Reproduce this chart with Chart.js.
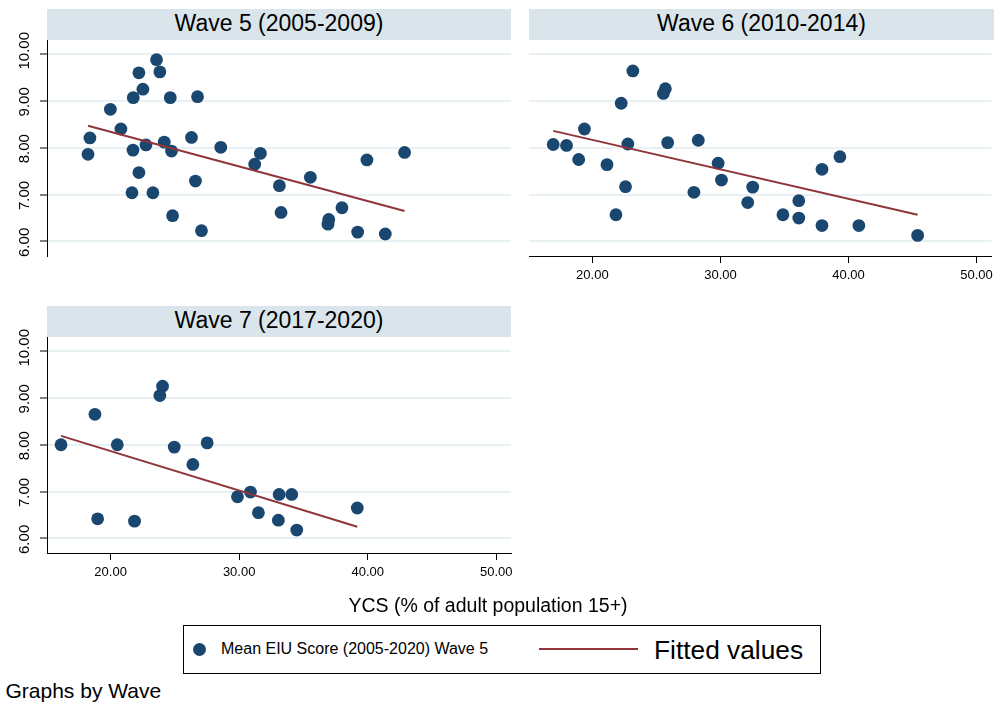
<!DOCTYPE html>
<html>
<head>
<meta charset="utf-8">
<script src="https://cdn.jsdelivr.net/npm/chart.js@4"></script>
<style>
  html, body { margin: 0; padding: 0; background: #fff; }
  #page { position: relative; width: 998px; height: 709px; overflow: hidden;
          font-family: "Liberation Sans", Arial, sans-serif; color: #000; background: #fff; }
  canvas { position: absolute; }
  .strip { position: absolute; background: #dae5eb; height: 31px; }
  .strip span { display: block; text-align: center; font-size: 23px; line-height: 28px; white-space: nowrap; }
  .txt { position: absolute; white-space: nowrap; line-height: 1; }
  #legendBox { position: absolute; left: 183px; top: 625px; width: 638px; height: 49px;
               box-sizing: border-box; border: 1px solid #000; }
  #legDot { position: absolute; left: 193px; top: 643px; width: 13px; height: 13px; border-radius: 50%; background: #1a476f; }
  #legLine { position: absolute; left: 539px; top: 648px; width: 99px; height: 2px; background: #90353b; }
</style>
</head>
<body>
<div id="page">
  <div class="strip" style="left:47px;top:9px;width:464px;"><span>Wave 5 (2005-2009)</span></div>
  <div class="strip" style="left:529px;top:9px;width:465px;"><span>Wave 6 (2010-2014)</span></div>
  <div class="strip" style="left:47px;top:306px;width:464px;"><span>Wave 7 (2017-2020)</span></div>

  <canvas id="c5" width="520" height="240" style="left:0px;top:30px;"></canvas>
  <canvas id="c6" width="478" height="270" style="left:520px;top:30px;"></canvas>
  <canvas id="c7" width="520" height="270" style="left:0px;top:327px;"></canvas>

  <div class="txt" style="left:288px;top:595.5px;width:400px;text-align:center;font-size:19.5px;">YCS (% of adult population 15+)</div>

  <div id="legendBox"></div>
  <div id="legDot"></div>
  <div class="txt" style="left:221px;top:640.5px;font-size:16px;">Mean EIU Score (2005-2020) Wave 5</div>
  <div id="legLine"></div>
  <div class="txt" style="left:654px;top:637px;font-size:26.3px;">Fitted values</div>

  <div class="txt" style="left:5.5px;top:680px;font-size:21px;">Graphs by Wave</div>
</div>

<script>
// Wave 5 (2005-2009): YCS share vs mean EIU score
const wave5X = [18.24, 18.39, 19.98, 20.80, 21.76, 21.74, 21.66, 22.20, 22.20, 22.51, 22.75, 23.29,
                23.57, 23.83, 24.17, 24.64, 24.74, 24.82, 26.29, 26.60, 26.76, 27.07, 28.57, 31.21,
                31.65, 33.13, 33.26, 35.54, 36.91, 36.97, 38.00, 39.22, 39.94, 41.37, 42.87];
const wave5Y = [7.86, 8.21, 8.82, 8.40, 9.07, 7.95, 7.04, 9.60, 7.47, 9.25, 8.06, 7.04,
                9.88, 9.62, 8.12, 9.07, 7.93, 6.55, 8.22, 7.29, 9.09, 6.23, 8.01, 7.65,
                7.88, 7.19, 6.62, 7.37, 6.37, 6.47, 6.72, 6.20, 7.74, 6.16, 7.90];

// Wave 6 (2010-2014)
const wave6X = [16.94, 17.98, 18.93, 19.38, 21.14, 21.84, 22.25, 22.59, 22.77, 23.16, 25.54, 25.70,
                25.88, 27.93, 28.27, 29.82, 30.08, 32.13, 32.52, 34.88, 36.12, 36.12, 37.93, 37.93,
                39.33, 40.81, 45.40];
const wave6Y = [8.07, 8.05, 7.75, 8.40, 7.64, 6.57, 8.95, 7.17, 8.08, 9.64, 9.16, 9.26,
                8.11, 7.05, 8.16, 7.67, 7.31, 6.83, 7.16, 6.57, 6.87, 6.50, 7.54, 6.34,
                7.81, 6.34, 6.13];

// Wave 7 (2017-2020)
const wave7X = [16.14, 18.78, 18.99, 20.52, 21.86, 23.83, 24.04, 24.95, 26.40, 27.51, 29.87, 30.88,
                31.50, 33.05, 33.11, 34.09, 34.48, 39.19];
const wave7Y = [8.00, 8.65, 6.42, 8.00, 6.37, 9.05, 9.25, 7.95, 7.58, 8.04, 6.89, 6.99,
                6.55, 6.39, 6.94, 6.94, 6.18, 6.65];

// Fitted values (linear fit) at the ends of each wave's YCS range
const fit5X = [18.24, 42.87];
const fit5Y = [8.47, 6.65];
const fit6X = [16.94, 45.40];
const fit6Y = [8.36, 6.57];
const fit7X = [16.14, 39.19];
const fit7Y = [8.19, 6.25];

// Axis ticks shared by all panels
const xTicks = [20, 30, 40, 50];
const yTicks = [6, 7, 8, 9, 10];

const FONT = '"Liberation Sans", Arial, sans-serif';
const NAVY = '#1a476f';
const MAROON = '#90353b';
const GRID = '#e9f0f3';

const toPoints = (xs, ys) => xs.map((x, i) => ({ x: x, y: ys[i] }));

// Vertical (rotated) value labels along the left axis
const rotatedYLabels = {
  id: 'rotatedYLabels',
  afterDraw(chart, args, opts) {
    if (!opts.show) return;
    const ys = chart.scales.y;
    const ctx = chart.ctx;
    ctx.save();
    ctx.fillStyle = '#000';
    ctx.font = '15px ' + FONT;
    ctx.textAlign = 'left';
    ctx.textBaseline = 'alphabetic';
    yTicks.forEach(v => {
      const py = ys.getPixelForValue(v);
      ctx.save();
      ctx.translate(28.5, py + 15.5);
      ctx.rotate(-Math.PI / 2);
      ctx.fillText(v.toFixed(2), 0, 0);
      ctx.restore();
    });
    ctx.restore();
  }
};

function makePanel(id, xs, ys, fx, fy, cfg) {
  const datasets = [
    {
      type: 'line',
      data: toPoints(fx, fy),
      borderColor: MAROON,
      borderWidth: 2,
      pointRadius: 0,
      fill: false,
      tension: 0,
      order: 0
    },
    {
      type: 'scatter',
      data: toPoints(xs, ys),
      backgroundColor: NAVY,
      borderColor: NAVY,
      borderWidth: 0,
      pointRadius: 6.4,
      order: 1
    }
  ];

  const xScale = {
    type: 'linear',
    min: 15.05,
    max: 51.15,
    display: cfg.showX,
    afterBuildTicks: s => { s.ticks = xTicks.map(v => ({ value: v })); },
    afterFit: s => { s.height = cfg.showX ? 40 : 0; },
    border: { display: true, color: '#000', width: 1 },
    grid: { display: true, drawOnChartArea: false, drawTicks: true, tickLength: 7,
            tickColor: '#000', tickWidth: 1 },
    ticks: {
      autoSkip: false,
      maxRotation: 0,
      padding: 5,
      color: '#000',
      font: { family: FONT, size: 13 },
      callback: v => Number(v).toFixed(2)
    }
  };

  const yScale = {
    type: 'linear',
    min: 5.69,
    max: 10.30,
    display: true,
    afterBuildTicks: s => { s.ticks = yTicks.map(v => ({ value: v })); },
    afterFit: s => { s.width = cfg.showY ? 47 : 0; },
    border: { display: cfg.showY, color: '#000', width: 1 },
    grid: { display: true, drawOnChartArea: true, drawTicks: cfg.showY, tickLength: 7,
            color: GRID, lineWidth: 2, tickColor: '#000', tickWidth: 1 },
    ticks: { display: false }
  };

  return new Chart(document.getElementById(id), {
    type: 'scatter',
    data: { datasets: datasets },
    options: {
      responsive: false,
      animation: false,
      devicePixelRatio: 1,
      events: [],
      layout: { padding: cfg.padding },
      plugins: {
        legend: { display: false },
        tooltip: { enabled: false },
        title: { display: false },
        rotatedYLabels: { show: cfg.showY }
      },
      scales: { x: xScale, y: yScale }
    },
    plugins: [rotatedYLabels]
  });
}

makePanel('c5', wave5X, wave5Y, fit5X, fit5Y,
  { showX: false, showY: true, padding: { top: 10, right: 9, bottom: 14, left: 0 } });
makePanel('c6', wave6X, wave6Y, fit6X, fit6Y,
  { showX: true, showY: false, padding: { top: 10, right: 4, bottom: 4, left: 9 } });
makePanel('c7', wave7X, wave7Y, fit7X, fit7Y,
  { showX: true, showY: true, padding: { top: 10, right: 9, bottom: 4, left: 0 } });
</script>
</body>
</html>
